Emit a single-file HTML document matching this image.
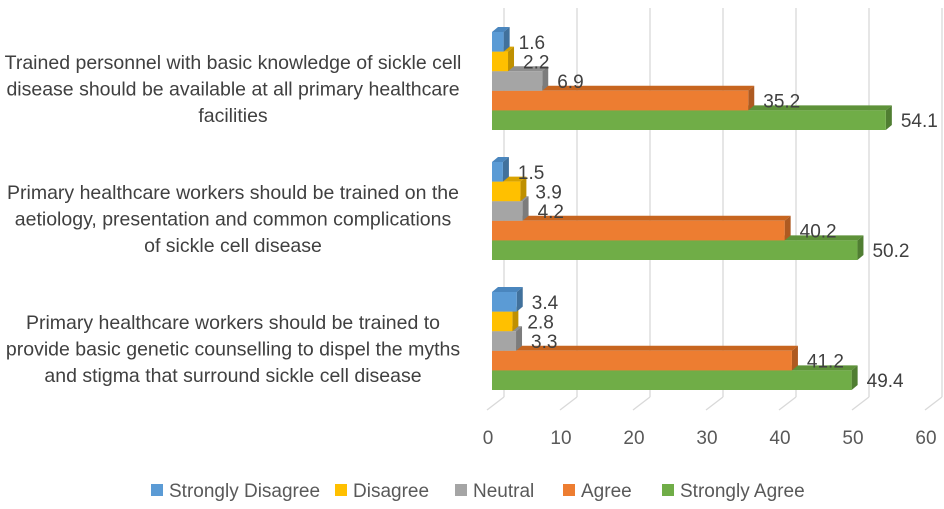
<!DOCTYPE html>
<html><head><meta charset="utf-8"><style>
body{margin:0;background:#fff;width:944px;height:504px;overflow:hidden}
svg{font-family:"Liberation Sans",sans-serif}
</style></head><body>
<svg id="chart" width="944" height="504" viewBox="0 0 944 504" xmlns="http://www.w3.org/2000/svg"></svg>
<script>
const categories = [
 ["Trained personnel with basic knowledge of sickle cell","disease should be available at all primary healthcare","facilities"],
 ["Primary healthcare workers should be trained on the","aetiology, presentation and common complications","of sickle cell disease"],
 ["Primary healthcare workers should be trained to","provide basic genetic counselling to dispel the myths","and stigma that surround sickle cell disease"]
];
const seriesNames = ["Strongly Disagree","Disagree","Neutral","Agree","Strongly Agree"];
const stronglyDisagree = [1.6,1.5,3.4];
const disagree = [2.2,3.9,2.8];
const neutral = [6.9,4.2,3.3];
const agree = [35.2,40.2,41.2];
const stronglyAgree = [54.1,50.2,49.4];
const ticks = [0,10,20,30,40,50,60];
const series=[stronglyDisagree,disagree,neutral,agree,stronglyAgree];
const colors=["#5B9BD5","#FFC000","#A5A5A5","#ED7D31","#70AD47"];
const sides=["#41719C","#BF9000","#7C7C7C","#AE5A21","#507E32"];
const tops=["#4A86BE","#D9A300","#8F8F8F","#C7651F","#5E9239"];
const svg=document.getElementById('chart');
const NS="http://www.w3.org/2000/svg";
function mk(t,a,p){const e=document.createElementNS(NS,t);for(const k in a)e.setAttribute(k,a[k]);(p||svg).appendChild(e);return e;}
const x0=492, k=7.28, bx0=504, bk=7.3;
const xs=v=>x0+v*k, bxs=v=>bx0+v*bk;
const groupTop=[32,162,292], barH=19.6, dx=6, dy=5;
ticks.forEach(t=>{
 const bx=bxs(t);
 const g=mk('g',{});
 
 
 mk('line',{x1:bx,y1:8,x2:bx,y2:397,stroke:'#d9d9d9','stroke-width':1.3},g);
 mk('line',{x1:bx,y1:397,x2:bx-17,y2:410,stroke:'#d9d9d9','stroke-width':1.3},g);
 const tx=mk('text',{x:bx-16,y:444,'font-size':19,fill:'#595959','text-anchor':'middle'});
 tx.textContent=t;
 
 
});
categories.forEach((cat,ci)=>{
 for(let s=series.length-1;s>=0;s--){
  const v=series[s][ci];
  const y=groupTop[ci]+s*barH, xe=xs(v);
  const g=mk('g',{});
  
  
  mk('polygon',{points:`${x0},${y} ${x0+dx},${y-dy} ${xe+dx},${y-dy} ${xe},${y}`,fill:tops[s]},g);
  mk('polygon',{points:`${xe},${y} ${xe+dx},${y-dy} ${xe+dx},${y+barH-dy} ${xe},${y+barH}`,fill:sides[s]},g);
  mk('rect',{x:x0,y:y,width:xe-x0,height:barH,fill:colors[s]},g);
 }
 for(let s=0;s<series.length;s++){
  const v=series[s][ci];
  const y=groupTop[ci]+s*barH;
  const t=mk('text',{x:xs(v)+15,y:y+barH/2+7,'font-size':19,fill:'#404040'});
  t.textContent=v.toFixed(1);
  
  
 }
 const cy=groupTop[ci]+37;
 cat.forEach((line,li)=>{
  const t=mk('text',{x:233,y:cy+li*26.5,'font-size':19.5,fill:'#404040','text-anchor':'middle'});
  t.textContent=line;
  
  
 });
});
const lx=[151,335,455,563,662];
seriesNames.forEach((n,i)=>{
 const g=mk('g',{});
 
 
 mk('rect',{x:lx[i],y:484,width:12,height:12,fill:colors[i]},g);
 const t=mk('text',{x:lx[i]+18,y:497,'font-size':19,fill:'#595959'},g);
 t.textContent=n;
});
</script>
</body></html>
